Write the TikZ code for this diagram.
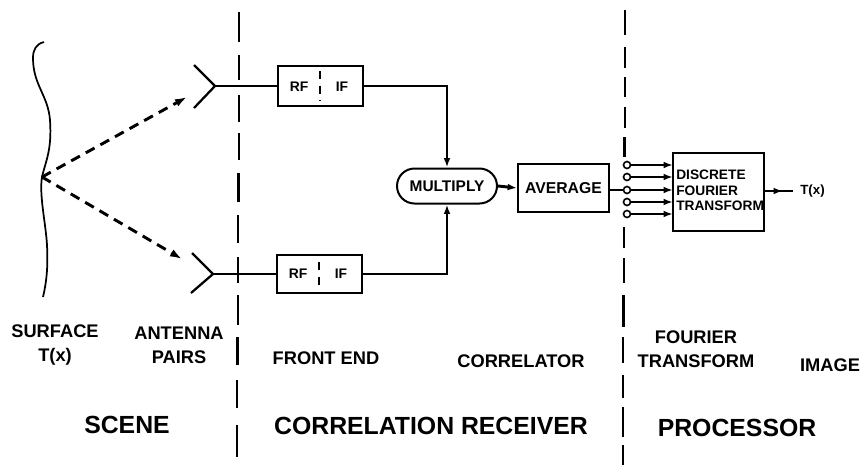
\documentclass[tikz,border=0pt]{standalone}
\usepackage{fontspec}
\setmainfont{Liberation Sans}
\usetikzlibrary{shapes.misc,arrows.meta}
\tikzset{
  x=0.75pt,y=-0.75pt,
  conn/.style={line width=2.2pt},
  head/.style={-{Latex[length=7pt,width=5pt]}},
  framed/.style={draw,line width=1.5pt,inner sep=0pt},
  lbl/.style={font=\fontsize{13.7}{18}\selectfont\bfseries,align=center,inner sep=0pt},
  big/.style={font=\fontsize{18.6}{21}\selectfont\bfseries,inner sep=0pt},
  rflbl/.style={font=\fontsize{10.4}{12}\selectfont\bfseries,inner sep=0pt},
  divider/.style={line width=1.6pt},
  ray/.style={line width=2.2pt,dash pattern=on 7.5pt off 5pt},
  split/.style={line width=1.2pt,dash pattern=on 6pt off 5pt}
}
\begin{document}
\begin{tikzpicture}
\useasboundingbox (0,0) rectangle (864,465);
% dividers
\foreach \x/\a/\b in {239/12/42,239/55/80,239/95/122,238.7/133/160,238.5/173/202,238.3/215/243,238/257/283,237.8/295/325,237.5/337/365,237.3/380/408,237/425/457}{
  \draw[divider] (\x,\a) -- (\x,\b);
}
\foreach \x/\a/\b in {625/10/35,625/47/68,624.8/77/97,624.6/107/128,624.5/137/157,624/227/248,623.8/258/283,623.5/295/327,623.3/337/363,623.2/375/398,623/407/437,623/445/465}{
  \draw[divider] (\x,\a) -- (\x,\b);
}
% surface
\coordinate (s) at (42,177);
\draw[line width=1.3pt] (44,42) .. controls (36,44) and (33,50) .. (33,58) .. controls (33,85) and (48,95) .. (50,120) .. controls (52,150) and (46,160) .. (42,177) .. controls (39,195) and (46,225) .. (47,245) .. controls (48,265) and (47,280) .. (43,297);
% antennas
\coordinate (a1) at (215,86); \coordinate (a2) at (213,274);
\draw[line width=1.7pt] (194,65) -- (a1) -- (194,108);
\draw[line width=1.7pt] (192,253) -- (a2) -- (191,293);
% boxes
\node[framed,minimum width=63.75pt,minimum height=30pt] (b1) at (320.5,86) {};
\node[framed,minimum width=63.75pt,minimum height=28.5pt] (b2) at (319.5,274) {};
\node[rflbl] (rf1) at (299,87) {RF};
\node[rflbl] (if1) at (342,87) {IF};
\node[rflbl] (rf2) at (298,274) {RF};
\node[rflbl] (if2) at (341,274) {IF};
\coordinate (sp1) at (320,71); \coordinate (sq1) at (320,101);
\coordinate (sp2) at (319,262); \coordinate (sq2) at (319,291);
\draw[split] (sp1) -- (sq1);
\draw[split] (sp2) -- (sq2);
\draw[conn] (a1) -- (b1.west);
\draw[conn] (a2) -- (b2.west);
% multiply
\node[framed,rounded rectangle,minimum width=75pt,minimum height=26.25pt,font=\fontsize{11.6}{13}\selectfont\bfseries] (m) at (447,186) {MULTIPLY};
\node[framed,minimum width=68.25pt,minimum height=36pt,font=\fontsize{11.8}{13}\selectfont\bfseries] (av) at (563.5,188) {AVERAGE};
\node[framed,minimum width=68.25pt,minimum height=58.5pt] (dft) at (718.5,192) {};
\node[font=\fontsize{10.3}{11.6}\selectfont\bfseries,align=left,anchor=west,inner sep=0pt] (dt) at (676,190.5) {DISCRETE\\FOURIER\\TRANSFORM};
\draw[conn,head] (b1.east) -| (m.north);
\draw[conn,head] (b2.east) -| (m.south);
\draw[conn,head] (m.east) -- (av.west);
% outputs
\foreach \i/\y in {1/165,2/177,3/190,4/202,5/214}{
  \node[circle,draw,line width=1.2pt,fill=white,minimum size=5.25pt,inner sep=0pt] (c\i) at (627,\y) {};
  \coordinate (e\i) at (673,\y);
  \draw[conn,head] (c\i) -- (e\i);
}
\draw[conn] (av.east|-c3) -- (c3);
\node[font=\fontsize{10}{12}\selectfont\bfseries,anchor=west,inner sep=0pt] (tx) at (800,191) {T(x)};
\coordinate (out) at (793,191);
\coordinate (dfte) at (dft.east|-tx);
\draw[conn] (dfte) -- (out);
\coordinate (outm) at (783,191);
\draw[conn,head] (dfte) -- (outm);
% rays
\coordinate (t1) at (187,97); \coordinate (t2) at (182,259);
\draw[ray,-{Latex[length=9pt,width=6pt]}] (s) -- (t1);
\draw[ray,-{Latex[length=9pt,width=6pt]}] (s) -- (t2);
% labels
\node[lbl] (l1) at (55,345) {SURFACE\\T(x)};
\node[lbl] (l2) at (179,345) {ANTENNA\\PAIRS};
\node[lbl] (l3) at (326,358) {FRONT END};
\node[lbl] (l4) at (521,361) {CORRELATOR};
\node[lbl] (l5) at (696,349) {FOURIER\\TRANSFORM};
\node[lbl] (l6) at (830,365) {IMAGE};
\node[big] (g1) at (127,425) {SCENE};
\node[big] (g2) at (431,426) {CORRELATION RECEIVER};
\node[big] (g3) at (737,428) {PROCESSOR};
\end{tikzpicture}
\end{document}
